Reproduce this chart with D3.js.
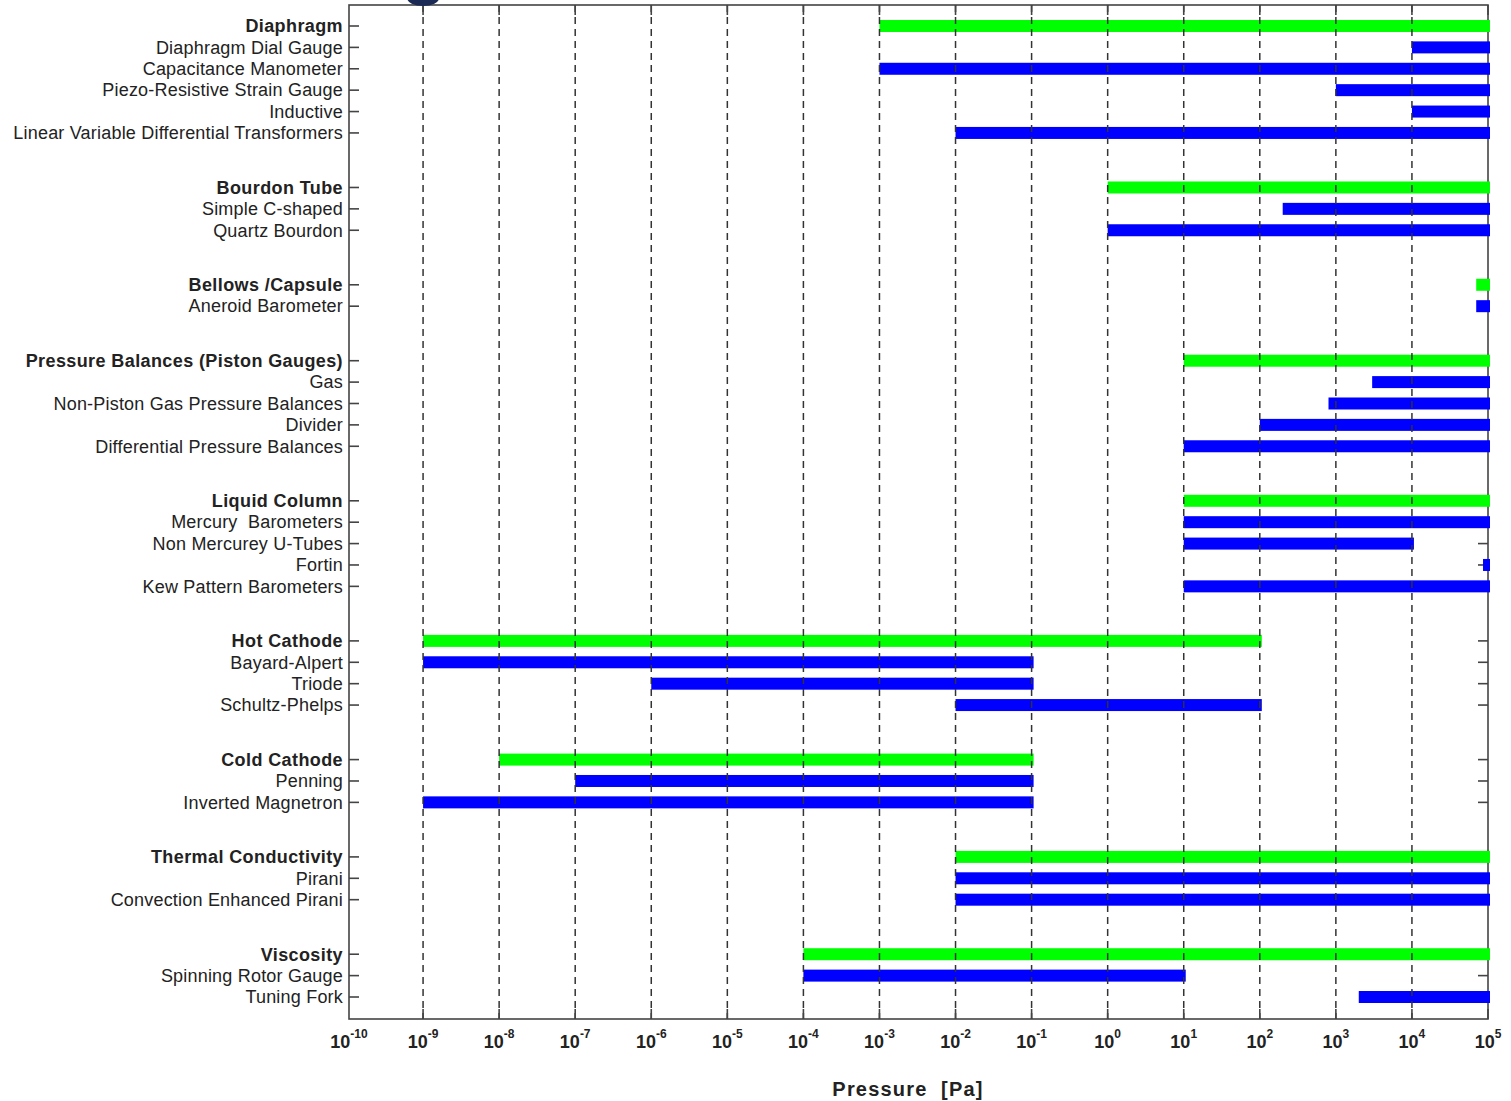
<!DOCTYPE html>
<html>
<head>
<meta charset="utf-8">
<script src="https://cdn.jsdelivr.net/npm/d3@7"></script>
<style>
  html, body { margin: 0; padding: 0; background: #fff; }
  svg { display: block; }
  text { font-family: "Liberation Sans", Arial, sans-serif; fill: #222; }
</style>
</head>
<body>
<svg id="chart" width="1511" height="1101"></svg>
<script>
// Gauge names, top to bottom. The first row of every group is the group's overall range.
const labels = [
  "Diaphragm", "Diaphragm Dial Gauge", "Capacitance Manometer", "Piezo-Resistive Strain Gauge", "Inductive", "Linear Variable Differential Transformers",
  "Bourdon Tube", "Simple C-shaped", "Quartz Bourdon",
  "Bellows /Capsule", "Aneroid Barometer",
  "Pressure Balances (Piston Gauges)", "Gas", "Non-Piston Gas Pressure Balances", "Divider", "Differential Pressure Balances",
  "Liquid Column", "Mercury  Barometers", "Non Mercurey U-Tubes", "Fortin", "Kew Pattern Barometers",
  "Hot Cathode", "Bayard-Alpert", "Triode", "Schultz-Phelps",
  "Cold Cathode", "Penning", "Inverted Magnetron",
  "Thermal Conductivity", "Pirani", "Convection Enhanced Pirani",
  "Viscosity", "Spinning Rotor Gauge", "Tuning Fork"
];
// Group number of each row
const groupOf = [
  0, 0, 0, 0, 0, 0,
  1, 1, 1,
  2, 2,
  3, 3, 3, 3, 3,
  4, 4, 4, 4, 4,
  5, 5, 5, 5,
  6, 6, 6,
  7, 7, 7,
  8, 8, 8
];
// Lower and upper measuring limits in Pa
const lowerPa = [
  1e-3, 1e4, 1e-3, 1e3, 1e4, 1e-2,
  1e0, 2e2, 1e0,
  7e4, 7e4,
  1e1, 3e3, 8e2, 1e2, 1e1,
  1e1, 1e1, 1e1, 8.6e4, 1e1,
  1e-9, 1e-9, 1e-6, 1e-2,
  1e-8, 1e-7, 1e-9,
  1e-2, 1e-2, 1e-2,
  1e-4, 1e-4, 2e3
];
const upperPa = [
  1e5, 1e5, 1e5, 1e5, 1e5, 1e5,
  1e5, 1e5, 1e5,
  1e5, 1e5,
  1e5, 1e5, 1e5, 1e5, 1e5,
  1e5, 1e5, 1e4, 1e5, 1e5,
  1e2, 1e-1, 1e-1, 1e2,
  1e-1, 1e-1, 1e-1,
  1e5, 1e5, 1e5,
  1e5, 1e1, 1e5
];
const tickExponents = [-10, -9, -8, -7, -6, -5, -4, -3, -2, -1, 0, 1, 2, 3, 4, 5];
const xTitle = "Pressure  [Pa]";

const svg = d3.select("#chart");
const plotLeft = 349, plotRight = 1488, plotTop = 5, plotBottom = 1019;

const x = d3.scaleLog().domain([1e-10, 1e5]).range([347, plotRight]);

// Row positions: unit step inside a group, a wider gap between groups
const groupGap = 2.55;
const rowPos = [];
let pos = 0;
labels.forEach((d, i) => {
  if (i > 0) pos += (groupOf[i] !== groupOf[i - 1]) ? groupGap : 1;
  rowPos.push(pos);
});
const y = d3.scaleLinear().domain([0, pos]).range([26, 997]);
const isHeader = labels.map((d, i) => i === 0 || groupOf[i] !== groupOf[i - 1]);

const axisColor = "#444";

// Plot frame
svg.append("rect")
  .attr("x", plotLeft).attr("y", plotTop)
  .attr("width", plotRight - plotLeft).attr("height", plotBottom - plotTop)
  .attr("fill", "none").attr("stroke", axisColor).attr("stroke-width", 1.6);

// Row ticks on both sides, pointing inward
const tickLen = 10;
const rowTicks = svg.append("g");
labels.forEach((d, i) => {
  rowTicks.append("line")
    .attr("x1", plotLeft).attr("x2", plotLeft + tickLen)
    .attr("y1", y(rowPos[i])).attr("y2", y(rowPos[i]))
    .attr("stroke", axisColor).attr("stroke-width", 1.6);
  rowTicks.append("line")
    .attr("x1", plotRight - tickLen).attr("x2", plotRight)
    .attr("y1", y(rowPos[i])).attr("y2", y(rowPos[i]))
    .attr("stroke", axisColor).attr("stroke-width", 1.6);
});

// Range bars
const barH = 12;
svg.append("g").selectAll("rect")
  .data(labels.map((d, i) => i))
  .join("rect")
  .attr("x", i => x(lowerPa[i]))
  .attr("y", i => y(rowPos[i]) - barH / 2)
  .attr("width", i => x(upperPa[i]) - x(lowerPa[i]) + 2)
  .attr("height", barH)
  .attr("fill", i => isHeader[i] ? "#00ff00" : "#0000ff");

// Dashed decade gridlines
const gridVals = tickExponents.slice(1, -1).map(e => Math.pow(10, e));
svg.append("g").selectAll("line")
  .data(gridVals)
  .join("line")
  .attr("x1", d => x(d)).attr("x2", d => x(d))
  .attr("y1", plotTop).attr("y2", plotBottom)
  .attr("stroke", "#333").attr("stroke-width", 1.5)
  .attr("stroke-dasharray", "7,5");

// Decade ticks on top and bottom
const tickVals = tickExponents.slice(1).map(e => Math.pow(10, e));
const xt = svg.append("g");
tickVals.forEach(v => {
  xt.append("line").attr("x1", x(v)).attr("x2", x(v))
    .attr("y1", plotBottom).attr("y2", plotBottom - tickLen)
    .attr("stroke", axisColor).attr("stroke-width", 1.6);
  xt.append("line").attr("x1", x(v)).attr("x2", x(v))
    .attr("y1", plotTop).attr("y2", plotTop + tickLen)
    .attr("stroke", axisColor).attr("stroke-width", 1.6);
});

// Tick labels as powers of ten
const tl = svg.append("g").selectAll("text")
  .data(tickExponents)
  .join("text")
  .attr("x", e => Math.max(x(Math.pow(10, e)), plotLeft))
  .attr("y", 1048)
  .attr("text-anchor", "middle")
  .attr("font-weight", "bold");
tl.append("tspan").attr("font-size", 18).text("10");
tl.append("tspan").attr("font-size", 12).attr("dy", -10).text(e => e);

// Row labels
svg.append("g").selectAll("text")
  .data(labels.map((d, i) => i))
  .join("text")
  .attr("x", 343)
  .attr("y", i => y(rowPos[i]))
  .attr("dy", "0.35em")
  .attr("text-anchor", "end")
  .attr("font-size", 18)
  .attr("font-weight", i => isHeader[i] ? "bold" : "normal")
  .attr("letter-spacing", i => isHeader[i] ? 0.4 : 0.2)
  .style("white-space", "pre")
  .text(i => labels[i]);

// Axis title
svg.append("text")
  .attr("x", 908).attr("y", 1096)
  .attr("text-anchor", "middle")
  .attr("font-size", 20).attr("font-weight", "bold")
  .attr("letter-spacing", 1.2)
  .style("white-space", "pre")
  .text(xTitle);

// Marker at the top edge above 1e-9
svg.append("ellipse")
  .attr("cx", x(1e-9)).attr("cy", -2)
  .attr("rx", 16).attr("ry", 8)
  .attr("fill", "#1b2a55");
</script>
</body>
</html>
